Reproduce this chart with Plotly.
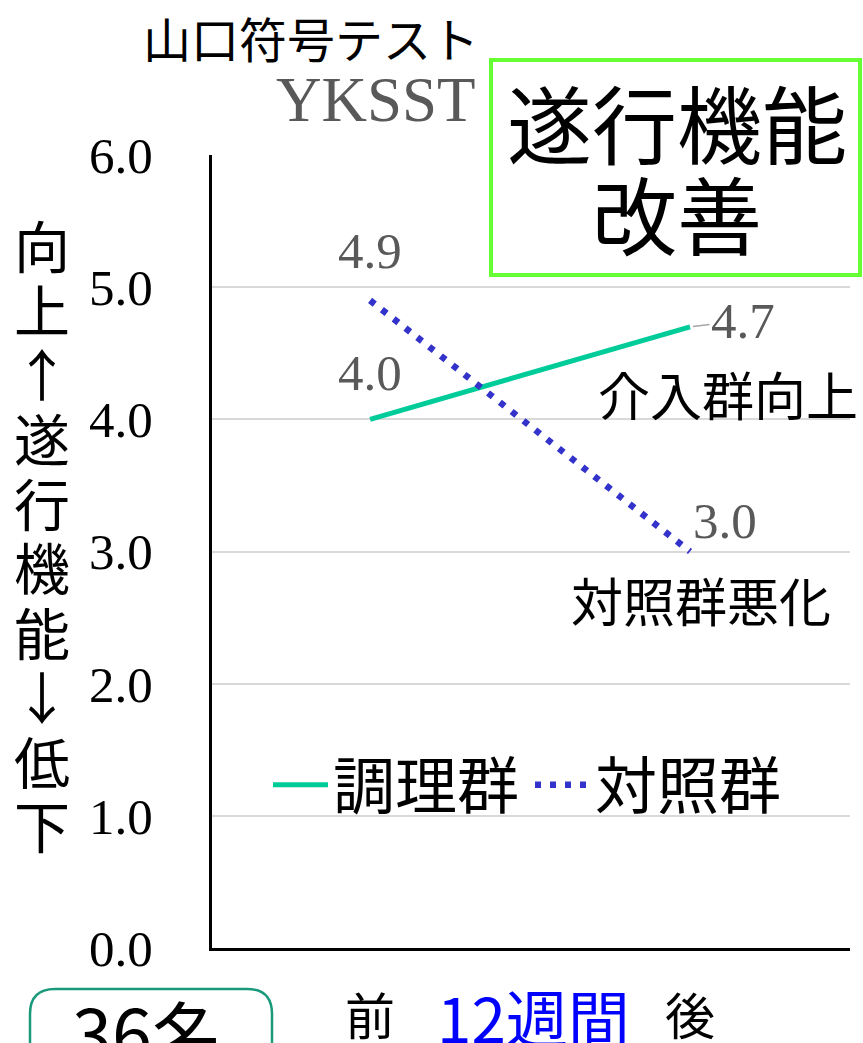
import plotly.graph_objects as go

# ---- data ----
categories = ["前", "後"]
x_pos = [0, 1]
intervention = [4.0, 4.7]   # 調理群
control = [4.9, 3.0]        # 対照群
y_ticks = [0, 1, 2, 3, 4, 5, 6]
series_names = ["調理群", "対照群"]

# ---- geometry helpers (pixel -> paper) ----
W, H = 863, 1043
L, R, T, B = 212, 850, 155, 948


def px(xp):
    return (xp - L) / (R - L)


def py(yp):
    return (B - yp) / (B - T)


JP = "Noto Sans CJK JP"
SERIF = "Liberation Serif"

fig = go.Figure()
fig.add_trace(go.Scatter(x=x_pos, y=intervention, mode="lines", name=series_names[0],
                         line=dict(color="#00CC99", width=5)))
fig.add_trace(go.Scatter(x=x_pos, y=control, mode="lines", name=series_names[1],
                         line=dict(color="#3333CC", width=6.5, dash="6px,9px")))

annotations = []


def txt(xp, yp, text, size, color="black", family=JP):
    return dict(x=px(xp), y=py(yp), xref="paper", yref="paper", text=text,
                xanchor="center", yanchor="middle", showarrow=False,
                font=dict(family=family, size=size, color=color))


# data value labels (offsets in px from the data point)
label_specs = [
    (x_pos[0], intervention[0], 0, 46, False),
    (x_pos[1], intervention[1], 53, 6, True),
    (x_pos[0], control[0], 0, 49, False),
    (x_pos[1], control[1], 35, 31, False),
]
for xv, yv, dx, dy, arrow in label_specs:
    if arrow:
        annotations.append(dict(x=xv, y=yv, xref="x", yref="y", text=f"{yv:.1f}",
                                showarrow=True, arrowhead=0, arrowwidth=1.5, arrowcolor="#A6A6A6",
                                ax=dx, ay=-dy, standoff=3, xanchor="center", yanchor="middle",
                                font=dict(family=SERIF, size=51, color="#595959")))
    else:
        annotations.append(dict(x=xv, y=yv, xref="x", yref="y", text=f"{yv:.1f}",
                                showarrow=False, xshift=dx, yshift=dy,
                                xanchor="center", yanchor="middle",
                                font=dict(family=SERIF, size=51, color="#595959")))

# titles
annotations.append(txt(311, 37, "山口符号テスト", 48))
annotations.append(txt(376, 100, "YKSST", 63, "#595959", SERIF))

# boxed message
annotations.append(txt(677, 121, "遂行機能", 85))
annotations.append(txt(677, 211, "改善", 85))

# side notes
annotations.append(txt(728, 393, "介入群向上", 52))
annotations.append(txt(701, 599, "対照群悪化", 52))

# vertical y-axis title
ytitle = "向上↑遂行機能↓低下"
for i, ch in enumerate(ytitle):
    annotations.append(txt(42, 243 + i * 64.5, ch, 56))

# bottom texts
annotations.append(dict(x=0.51, y=py(1016), xref="x", yref="paper", text="12週間",
                        xanchor="center", yanchor="middle",
                        showarrow=False, font=dict(family=JP, size=62, color="#0000FF")))
annotations.append(txt(148, 1030, "36名", 72))

shapes = []
# green message box
shapes.append(dict(type="rect", xref="paper", yref="paper", x0=px(491), x1=px(860),
                   y0=py(60), y1=py(275), line=dict(color="#66FF33", width=4), fillcolor="rgba(0,0,0,0)"))
# rounded box around 36名
x0, x1, y0, y1, r = px(30), px(272), py(989), py(1070), 25
rx = r / (R - L)
ry = r / (B - T)
path = (f"M{x0},{y1} L{x0},{y0 - ry} Q{x0},{y0} {x0 + rx},{y0} "
        f"L{x1 - rx},{y0} Q{x1},{y0} {x1},{y0 - ry} L{x1},{y1}")
shapes.append(dict(type="path", xref="paper", yref="paper", path=path,
                   line=dict(color="#1A9A7A", width=2.5)))

fig.update_layout(
    width=W, height=H,
    margin=dict(l=L, r=W - R, t=T, b=H - B, pad=0, autoexpand=False),
    paper_bgcolor="white", plot_bgcolor="white",
    font=dict(family=JP, color="black"),
    showlegend=True,
    legend=dict(orientation="h", x=px(268), y=py(785), xanchor="left", yanchor="middle",
                font=dict(family=JP, size=62, color="black"), bgcolor="rgba(0,0,0,0)",
                itemwidth=55, tracegroupgap=0, entrywidth=192),
    xaxis=dict(range=[-0.494, 1.5], tickvals=x_pos, ticktext=categories, showgrid=False,
               zeroline=False, showline=True, linecolor="black", linewidth=3, ticks="",
               tickfont=dict(family=JP, size=50, color="black"), ticklabelstandoff=24,
               fixedrange=True, automargin=False),
    yaxis=dict(range=[0, 6], tickvals=y_ticks, tickformat=".1f", showgrid=True,
               gridcolor="#D9D9D9", gridwidth=2, zeroline=False, showline=True,
               linecolor="black", linewidth=3, ticks="",
               tickfont=dict(family=SERIF, size=51, color="black"), ticklabelstandoff=46,
               fixedrange=True, automargin=False),
    annotations=annotations,
    shapes=shapes,
)

fig.write_html("out.html")
